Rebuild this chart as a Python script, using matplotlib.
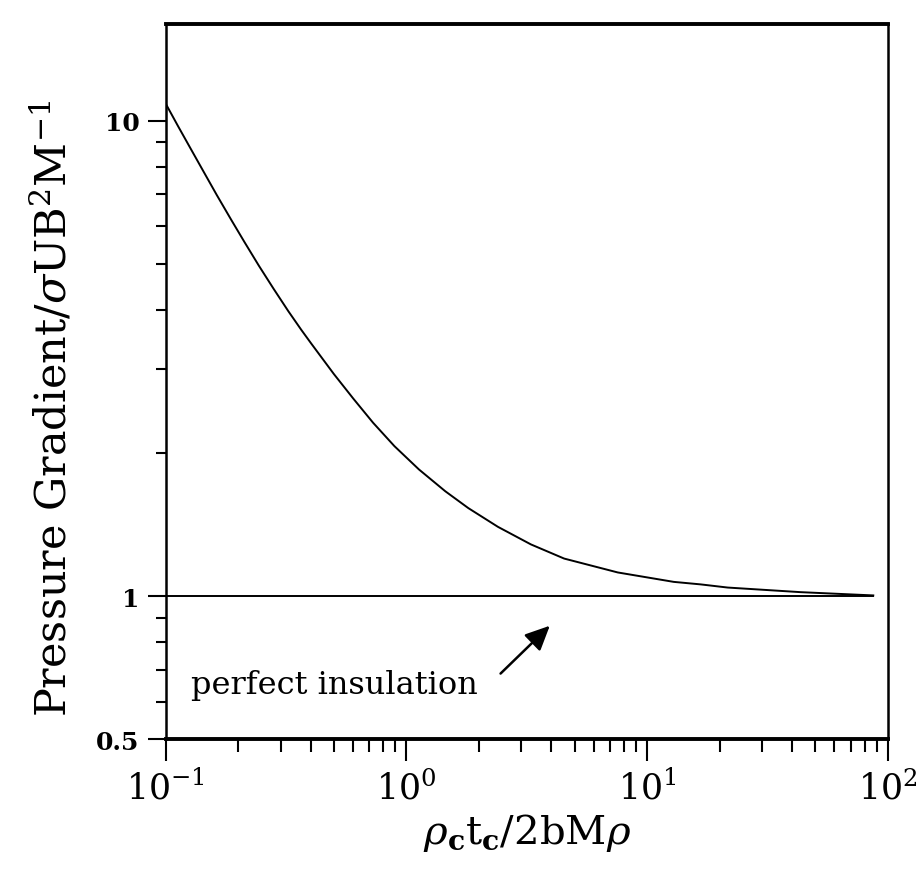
import numpy as np
import matplotlib
matplotlib.use("Agg")
import matplotlib.pyplot as plt
from matplotlib.ticker import LogLocator, FixedLocator, NullFormatter

plt.rcParams['font.family'] = ['DejaVu Serif']
plt.rcParams['mathtext.fontset'] = 'dejavuserif'

# Data
x_curve = [0.1, 0.1124, 0.1272, 0.144, 0.163, 0.1874, 0.212, 0.2438, 0.2804, 0.3228,
           0.3656, 0.4016, 0.4995, 0.602, 0.7265, 0.891, 1.127, 1.45, 1.807, 2.40,
           3.29, 4.52, 7.55, 12.9, 16.7, 21.6, 43.4, 87.0]
y_curve = [10.85, 9.74, 8.71, 7.79, 6.97, 6.175, 5.56, 4.95, 4.43, 3.975,
           3.63, 3.40, 2.93, 2.60, 2.315, 2.067, 1.846, 1.661, 1.531, 1.398,
           1.284, 1.199, 1.121, 1.071, 1.058, 1.042, 1.019, 1.003]
x_insul = [0.1, 87.0]
y_insul = [1.0, 1.0]
y_tick_vals = [0.5, 1, 10]
y_tick_labels = ['0.5', '1', '10']
x_tick_vals = [0.1, 1, 10, 100]
x_tick_labels = [r'$10^{-1}$', r'$10^{0}$', r'$10^{1}$', r'$10^{2}$']

fig = plt.figure(figsize=(9.21, 8.78), dpi=100)
ax = fig.add_axes([0.180, 0.157, 0.784, 0.815])

ax.plot(x_curve, y_curve, color='black', lw=1.4)
ax.plot(x_insul, y_insul, color='black', lw=1.4)

ax.set_xscale('log')
ax.set_yscale('log')
ax.set_xlim(0.1, 100)
ax.set_ylim(0.5, 16)

ax.yaxis.set_major_locator(FixedLocator(y_tick_vals))
ax.set_yticklabels(y_tick_labels, fontsize=18, fontweight='bold')
ax.yaxis.set_minor_locator(FixedLocator([0.6, 0.7, 0.8, 0.9, 2, 3, 4, 5, 6, 7, 8, 9]))
ax.yaxis.set_minor_formatter(NullFormatter())

ax.xaxis.set_major_locator(FixedLocator(x_tick_vals))
ax.set_xticklabels(x_tick_labels, fontsize=25)
ax.xaxis.set_minor_locator(LogLocator(base=10, subs=np.arange(2, 10), numticks=20))
ax.xaxis.set_minor_formatter(NullFormatter())

ax.tick_params(axis='both', which='both', direction='out', top=False, right=False, color='black')
ax.tick_params(axis='y', which='major', length=13, width=1.5, pad=6)
ax.tick_params(axis='y', which='minor', length=7, width=1.5)
ax.tick_params(axis='x', which='major', length=16, width=1.5, pad=6)
ax.tick_params(axis='x', which='minor', length=9, width=1.5)

ax.spines['top'].set_linewidth(2.8)
ax.spines['bottom'].set_linewidth(2.8)
ax.spines['left'].set_linewidth(1.8)
ax.spines['right'].set_linewidth(1.8)

ax.set_ylabel(r'Pressure Gradient/$\sigma$UB$^{2}$M$^{-1}$', fontsize=31)
ax.yaxis.set_label_coords(-0.125, 0.464)
ax.set_xlabel(r'$\rho_{\mathbf{c}}\mathrm{t}_{\mathbf{c}}/2\mathrm{bM}\rho$', fontsize=29)
ax.xaxis.set_label_coords(0.5, -0.100)

ax.text(0.1276, 0.651, 'perfect insulation', fontsize=23, ha='left', va='center')
ax.annotate('', xy=(3.94, 0.866), xytext=(2.46, 0.687),
            arrowprops=dict(arrowstyle='-|>,head_length=1.5,head_width=0.7', color='black', lw=1.8,
                            shrinkA=0, shrinkB=0))

fig.savefig('out.png', dpi=100)
